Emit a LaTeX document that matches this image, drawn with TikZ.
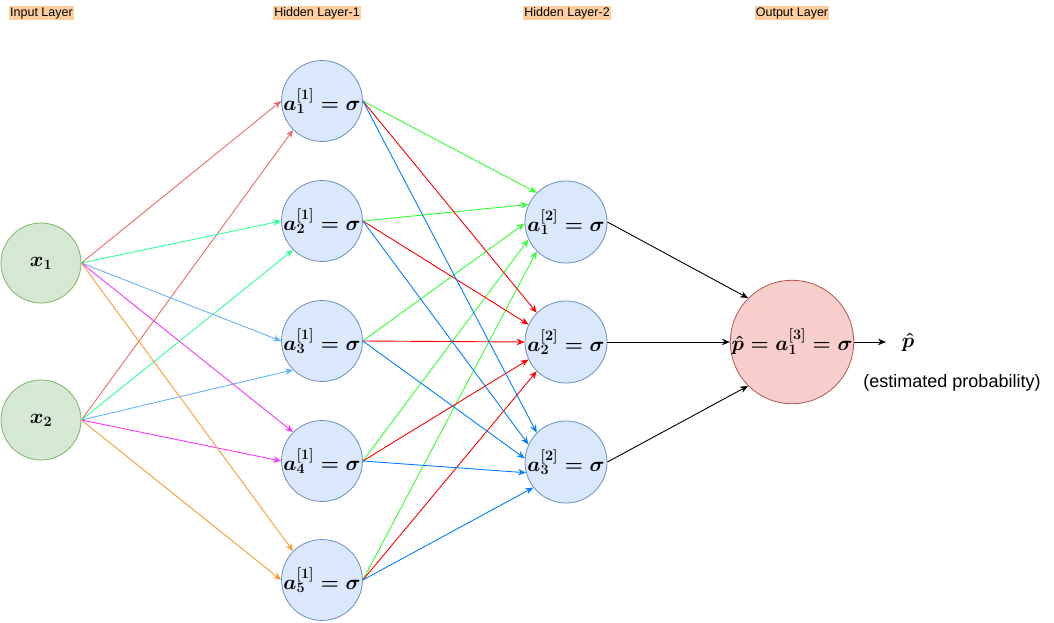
\documentclass[tikz,border=0pt]{standalone}
\usepackage{fontspec}
\setmainfont{Liberation Sans}
\usetikzlibrary{arrows.meta}

\definecolor{hidfill}{HTML}{DAE8FC}
\definecolor{hidline}{HTML}{6C8EBF}
\definecolor{infill}{HTML}{D5E8D4}
\definecolor{inline}{HTML}{82B366}
\definecolor{outfill}{HTML}{F8CECC}
\definecolor{outline}{HTML}{B85450}
\definecolor{tagbg}{HTML}{FFCEA0}
\definecolor{eRed}{HTML}{EA6B66}
\definecolor{eMint}{HTML}{33FF99}
\definecolor{eSky}{HTML}{66B2FF}
\definecolor{eMagenta}{HTML}{FF33FF}
\definecolor{eOrange}{HTML}{FF9933}
\definecolor{eGreen}{HTML}{33FF33}
\definecolor{eRedB}{HTML}{FF0000}
\definecolor{eBlue}{HTML}{007FFF}

\tikzset{
  x=1pt, y=-1pt,
  mathfont/.style={font=\fontsize{21}{25}\selectfont\boldmath},
  neuron/.style={circle, draw, line width=0.8pt, inner sep=0pt, mathfont},
  innode/.style={neuron, fill=infill, draw=inline, minimum size=80pt},
  hidnode/.style={neuron, fill=hidfill, draw=hidline, minimum size=80pt},
  hid2node/.style={neuron, fill=hidfill, draw=hidline, minimum size=82pt},
  outnode/.style={neuron, fill=outfill, draw=outline, minimum size=120pt},
  layertag/.style={fill=tagbg, inner xsep=1pt, inner ysep=1.5pt,
    font=\fontsize{12.5}{14}\selectfont},
  wire/.style={line width=0.9pt, -{Stealth[length=8pt,width=6.5pt]}},
}

\begin{document}
\begin{tikzpicture}
\useasboundingbox (0,0) rectangle (1054,623);

% layer captions
\node[layertag] (tIn)  at (41.5,13) {Input Layer};
\node[layertag] (tH1)  at (317,13)  {Hidden Layer-1};
\node[layertag] (tH2)  at (567,13)  {Hidden Layer-2};
\node[layertag] (tOut) at (792,13)  {Output Layer};

% input layer
\node[innode] (x1) at (41,263) {$x_1$};
\node[innode] (x2) at (41,420) {$x_2$};

% hidden layer 1
\foreach \i/\yy in {1/101,2/221,3/341,4/461,5/580}
  \node[hidnode] (h\i) at (322,\yy) {$a^{[1]}_{\i} = \sigma$};

% hidden layer 2
\foreach \i/\yy in {1/222,2/342,3/462}
  \node[hid2node] (g\i) at (566,\yy) {$a^{[2]}_{\i} = \sigma$};

% output layer
\node[outnode] (o) at (792,342) {$\hat{p} = a^{[3]}_{1} = \sigma$};
\node[mathfont, inner sep=0pt] (ph) at (908,342) {$\hat{p}$};
\node[font=\fontsize{18}{21}\selectfont, inner sep=0pt] (est) at (952,383) {(estimated probability)};

% input -> hidden 1
\draw[wire, eRed]     (x1.east) -- (h1.180);
\draw[wire, eRed]     (x2.east) -- (h1.225);
\draw[wire, eMint]    (x1.east) -- (h2.180);
\draw[wire, eMint]    (x2.east) -- (h2.225);
\draw[wire, eSky]     (x1.east) -- (h3.180);
\draw[wire, eSky]     (x2.east) -- (h3.225);
\draw[wire, eMagenta] (x1.east) -- (h4.135);
\draw[wire, eMagenta] (x2.east) -- (h4.180);
\draw[wire, eOrange]  (x1.east) -- (h5.135);
\draw[wire, eOrange]  (x2.east) -- (h5.180);

% hidden 1 -> hidden 2
\foreach \i/\a in {1/135,2/155,3/182,4/205,5/225}
  \draw[wire, eGreen] (h\i.east) -- (g1.\a);
\foreach \i/\a in {1/135,2/155,3/180,4/205,5/225}
  \draw[wire, eRedB] (h\i.east) -- (g2.\a);
\foreach \i/\a in {1/135,2/155,3/175,4/195,5/218}
  \draw[wire, eBlue] (h\i.east) -- (g3.\a);

% hidden 2 -> output
\draw[wire, black] (g1.east) -- (o.135);
\draw[wire, black] (g2.east) -- (o.180);
\draw[wire, black] (g3.east) -- (o.225);

% output arrow
\coordinate (oend) at (886,342);
\draw[wire, black] (o.east) -- (oend);
\end{tikzpicture}
\end{document}
